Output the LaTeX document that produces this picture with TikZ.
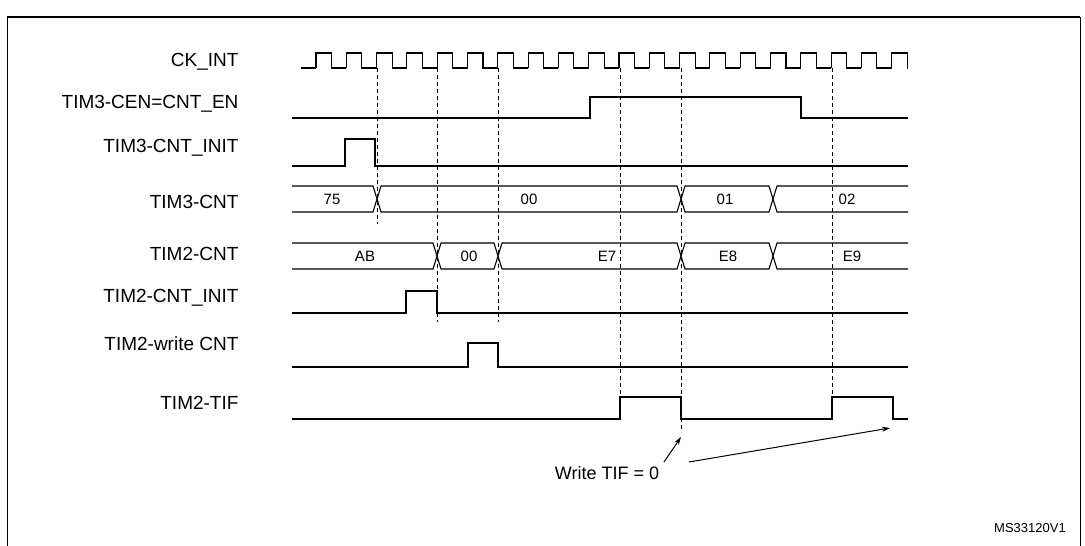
\documentclass[tikz,border=0pt]{standalone}
\usepackage{fontspec}
\setmainfont{Liberation Sans}
\usetikzlibrary{arrows.meta}

\tikzset{
  siglabel/.style={anchor=east, font=\fontsize{19}{21}\selectfont},
  buslabel/.style={font=\fontsize{15}{17}\selectfont},
  wave/.style={line width=1.1pt},
  guide/.style={dashed, line width=0.8pt, dash pattern=on 4pt off 3pt},
  pointer/.style={line width=1pt, -{Stealth[length=8pt,width=5pt]}}
}

\begin{document}
\begin{tikzpicture}[x=1pt,y=-1pt]
\useasboundingbox (0,0) rectangle (1085,546);
% Frame
\draw[line width=1pt] (7,546) -- (7,17) -- (1080,17) -- (1080,546);
\draw[line width=2pt] (7,17) -- (1080,17);

% Signal names
\node[siglabel] (ck)    at (242,62)  {CK\_INT};
\node[siglabel] (cen)   at (242,104) {TIM3-CEN=CNT\_EN};
\node[siglabel] (init3) at (242,148) {TIM3-CNT\_INIT};
\node[siglabel] (cnt3)  at (242,202) {TIM3-CNT};
\node[siglabel] (cnt2)  at (242,254) {TIM2-CNT};
\node[siglabel] (init2) at (242,298) {TIM2-CNT\_INIT};
\node[siglabel] (wr2)   at (242,344) {TIM2-write CNT};
\node[siglabel] (tif)   at (242,403) {TIM2-TIF};

% Clock CK_INT
\draw[wave] (301,68) -- (316,68);
\foreach \k in {0,...,19} {
  \pgfmathsetmacro{\ra}{316+30.3*\k}
  \pgfmathsetmacro{\fa}{\ra+15.5}
  \pgfmathsetmacro{\nx}{min(\ra+30.3,908)}
  \draw[wave] (\ra,68) -- (\ra,53) -- (\fa,53) -- (\fa,68) -- (\nx,68);
}

% Guide lines
\draw[guide] (377,68) -- (377,224);
\draw[guide] (437,68) -- (437,322);
\draw[guide] (498,68) -- (498,322);
\draw[guide] (620,68) -- (620,397);
\draw[guide] (681,68) -- (681,432);
\draw[guide] (832,68) -- (832,397);

% TIM3-CEN=CNT_EN
\draw[wave] (292,118) -- (590,118) -- (590,97) -- (801,97) -- (801,118) -- (908,118);

% TIM3-CNT_INIT
\draw[wave] (292,166) -- (345,166) -- (345,139) -- (375,139) -- (375,166) -- (908,166);

% TIM3-CNT bus
\draw[wave] (292,186) -- (373,186) -- (381,212) -- (677,212) -- (685,186) -- (769,186) -- (777,212) -- (908,212);
\draw[wave] (292,212) -- (373,212) -- (381,186) -- (677,186) -- (685,212) -- (769,212) -- (777,186) -- (908,186);
\node[buslabel] (v75) at (332,199) {75};
\node[buslabel] (v00a) at (529,199) {00};
\node[buslabel] (v01) at (725,199) {01};
\node[buslabel] (v02) at (847,199) {02};

% TIM2-CNT bus
\draw[wave] (292,243) -- (433,243) -- (441,269) -- (494,269) -- (502,243) -- (677,243) -- (685,269) -- (769,269) -- (777,243) -- (908,243);
\draw[wave] (292,269) -- (433,269) -- (441,243) -- (494,243) -- (502,269) -- (677,269) -- (685,243) -- (769,243) -- (777,269) -- (908,269);
\node[buslabel] (vab) at (365,256) {AB};
\node[buslabel] (v00b) at (469,256) {00};
\node[buslabel] (ve7) at (607,256) {E7};
\node[buslabel] (ve8) at (728,256) {E8};
\node[buslabel] (ve9) at (852,256) {E9};

% TIM2-CNT_INIT
\draw[wave] (292,313) -- (406,313) -- (406,291) -- (437,291) -- (437,313) -- (908,313);

% TIM2-write CNT
\draw[wave] (292,367) -- (468,367) -- (468,343) -- (498,343) -- (498,367) -- (908,367);

% TIM2-TIF
\draw[wave] (292,419) -- (620,419) -- (620,397) -- (681,397) -- (681,419) -- (832,419) -- (832,397) -- (893,397) -- (893,419) -- (908,419);

% Write TIF = 0
\node[font=\fontsize{18}{20}\selectfont] (wtif) at (607,473) {Write TIF = 0};
\coordinate (clr1) at (681,437);
\coordinate (clr2) at (890,428);
\draw[pointer] (664,462) -- (clr1);
\draw[pointer] (689,462) -- (clr2);

\node[font=\fontsize{13}{15}\selectfont] (ref) at (1030,528) {MS33120V1};
\end{tikzpicture}
\end{document}
